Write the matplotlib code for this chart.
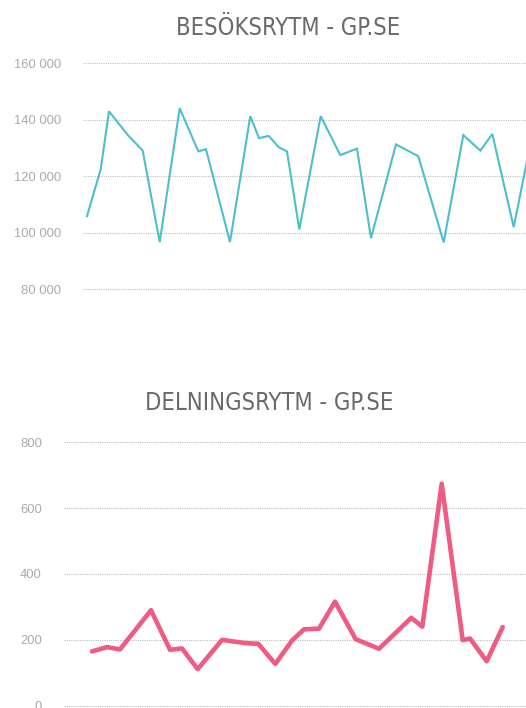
import matplotlib
matplotlib.use("Agg")
import matplotlib.pyplot as plt
from matplotlib.ticker import FuncFormatter

# besök per dag (position i dagar, läst ur bilden)
besok_x = [0.0, 1.37, 2.2, 4.13, 5.57, 7.27, 9.27, 11.13, 11.9, 14.3, 16.33, 17.2,
           18.17, 19.17, 20.0, 21.23, 23.37, 25.33, 27.0, 28.4, 30.9, 33.13, 35.67,
           37.63, 39.33, 40.53, 42.67, 44.3]
besok = [105900, 122500, 143000, 134400, 129100, 96700, 144100, 128800, 129600,
         96700, 141300, 133500, 134300, 130300, 128800, 101200, 141300, 127500,
         129800, 98100, 131300, 127100, 96600, 134600, 129100, 135000, 102000, 130700]
besok_ticks = [80000, 100000, 120000, 140000, 160000]

# delningar
delning_x = [0.0, 1.5, 2.8, 5.9, 7.8, 9.0, 10.57, 13.0, 15.37, 16.63, 18.33, 20.03,
             21.2, 22.7, 24.3, 26.37, 28.7, 31.93, 33.03, 34.97, 37.07, 37.8, 39.47, 41.07]
delningar = [165, 178, 171, 290, 170, 174, 111, 200, 190, 188, 127, 199, 232, 234,
             316, 202, 173, 267, 240, 674, 199, 204, 135, 239]
delning_ticks = [0, 200, 400, 600, 800]

tick_font = ['Liberation Sans', 'DejaVu Sans']
grid_color = '#bdbdbd'
label_color = '#ababab'
title_color = '#6a6a6a'

W, H = 526, 708
fig = plt.figure(figsize=(W / 100, H / 100), dpi=100)


def style_axes(ax, ticks, fmt):
    for s in ax.spines.values():
        s.set_visible(False)
    ax.set_yticks(ticks)
    ax.yaxis.set_major_formatter(FuncFormatter(fmt))
    ax.set_xticks([])
    ax.tick_params(axis='y', length=0, pad=16, labelsize=9.4, labelcolor=label_color)
    for lab in ax.get_yticklabels():
        lab.set_family(tick_font)
    ax.grid(axis='y', color=grid_color, linestyle=(0, (1, 1)), linewidth=0.8)
    ax.set_axisbelow(True)


def title(x, y, s):
    fig.text(x / W, 1 - y / H, s, ha='center', va='center', fontsize=17,
             color=title_color, family='DejaVu Sans', fontstretch='condensed')


# övre diagram (2 px marginal så att kantlinjerna syns helt)
ax1 = fig.add_axes([83 / W, (H - 291.3) / H, (W - 83) / W, 230 / H])
ax1.plot(besok_x, besok, color='#4dbfcc', linewidth=1.5, solid_joinstyle='miter')
ax1.set_xlim(-0.4, 43.9)
ax1.set_ylim(80000 - 708, 160000 + 708)
style_axes(ax1, besok_ticks, lambda v, p: f"{int(v):,}".replace(",", " "))
title(287.7, 28, "BESÖKSRYTM - GP.SE")

# nedre diagram
ax2 = fig.add_axes([64 / W, (H - 707.7) / H, (W - 64) / W, 267.4 / H])
ax2.plot(delning_x, delningar, color='#ef5b83', linewidth=3.3,
         solid_joinstyle='round', solid_capstyle='round')
ax2.set_xlim(-2.8, 43.4)
ax2.set_ylim(-6, 806)
style_axes(ax2, delning_ticks, lambda v, p: f"{int(v)}")
title(269.2, 403.5, "DELNINGSRYTM - GP.SE")

fig.savefig("out.png", dpi=100)
